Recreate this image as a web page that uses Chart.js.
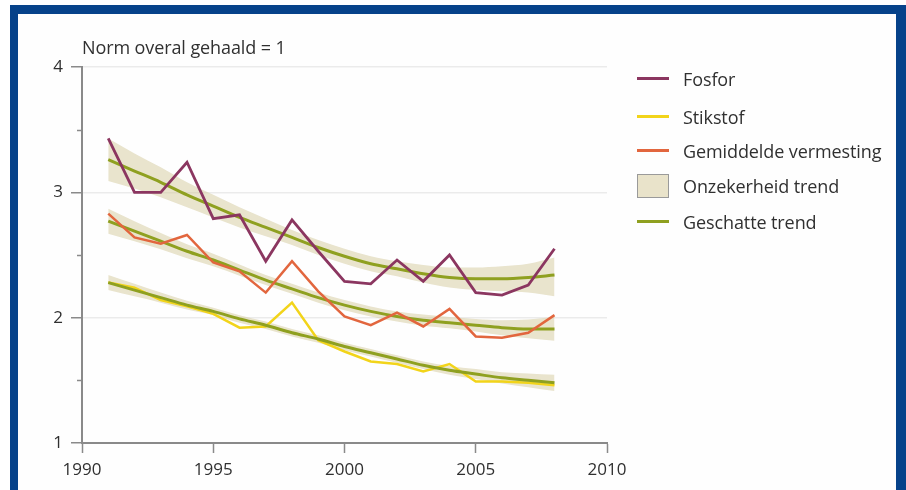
<!DOCTYPE html>
<html lang="nl">
<head>
<meta charset="utf-8">
<title>Vermesting: norm overal gehaald = 1</title>
<script src="https://cdn.jsdelivr.net/npm/chart.js@4.4.1/dist/chart.umd.min.js"></script>
<style>
  html, body { margin: 0; padding: 0; background: #ffffff; }
  body { width: 906px; height: 490px; position: relative; overflow: hidden;
         font-family: "Open Sans", "Noto Sans", sans-serif; color: #303030; }
  #frame { position: absolute; left: 10px; top: 5px; width: 896px; height: 500px;
           box-sizing: border-box; background: #fefefe;
           border-left: 8px solid #06428a; border-top: 9px solid #06428a;
           border-right: 10px solid #06428a; }
  #chart { position: absolute; left: 0; top: 0; }
  #title { position: absolute; left: 82px; top: 34px; font-size: 18px; line-height: 26px;
           white-space: nowrap; letter-spacing: -0.1px; }
  #legend { position: absolute; left: 637px; top: 0; }
  .row { position: absolute; left: 0; height: 26px; white-space: nowrap; }
  .swatch { position: absolute; left: 0; }
  .label { position: absolute; left: 46px; top: 0; font-size: 18px; line-height: 26px;
           letter-spacing: -0.1px; }
</style>
</head>
<body>
<div id="frame"></div>
<canvas id="chart" width="906" height="490"></canvas>
<div id="title">Norm overal gehaald = 1</div>
<div id="legend"></div>
<script>
// Jaren met metingen
const years = [1991, 1992, 1993, 1994, 1995, 1996, 1997, 1998, 1999,
               2000, 2001, 2002, 2003, 2004, 2005, 2006, 2007, 2008];

// Gemeten verhouding t.o.v. de norm
const fosfor     = [3.43, 3.00, 3.00, 3.24, 2.79, 2.82, 2.45, 2.78, 2.53,
                    2.29, 2.27, 2.46, 2.29, 2.50, 2.20, 2.18, 2.26, 2.55];
const stikstof   = [2.28, 2.24, 2.14, 2.09, 2.03, 1.92, 1.93, 2.12, 1.82,
                    1.73, 1.65, 1.63, 1.57, 1.63, 1.49, 1.49, 1.48, 1.46];
const gemiddelde = [2.83, 2.64, 2.59, 2.66, 2.44, 2.37, 2.20, 2.45, 2.21,
                    2.01, 1.94, 2.04, 1.93, 2.07, 1.85, 1.84, 1.88, 2.02];

// Geschatte trends
const trendFosfor     = [3.26, 3.17, 3.08, 2.98, 2.89, 2.80, 2.72, 2.64, 2.56,
                         2.49, 2.43, 2.39, 2.35, 2.32, 2.31, 2.31, 2.32, 2.34];
const trendStikstof   = [2.28, 2.22, 2.16, 2.10, 2.05, 1.99, 1.94, 1.88, 1.83,
                         1.77, 1.72, 1.67, 1.62, 1.58, 1.55, 1.52, 1.50, 1.48];
const trendGemiddelde = [2.77, 2.69, 2.61, 2.53, 2.46, 2.38, 2.30, 2.23, 2.16,
                         2.10, 2.05, 2.01, 1.98, 1.96, 1.94, 1.92, 1.91, 1.91];

// Onzekerheidsbanden rond de trends (boven- en ondergrens)
const fosforBoven     = [3.43, 3.31, 3.20, 3.08, 2.98, 2.88, 2.79, 2.70, 2.62,
                         2.55, 2.49, 2.45, 2.42, 2.40, 2.40, 2.41, 2.43, 2.48];
const fosforOnder     = [3.09, 3.03, 2.96, 2.88, 2.80, 2.72, 2.65, 2.58, 2.50,
                         2.43, 2.37, 2.33, 2.28, 2.24, 2.22, 2.21, 2.20, 2.17];
const stikstofBoven   = [2.34, 2.27, 2.20, 2.135, 2.08, 2.02, 1.97, 1.91, 1.86,
                         1.80, 1.75, 1.70, 1.65, 1.615, 1.59, 1.565, 1.555, 1.545];
const stikstofOnder   = [2.22, 2.17, 2.12, 2.065, 2.02, 1.96, 1.91, 1.85, 1.80,
                         1.74, 1.69, 1.64, 1.59, 1.545, 1.51, 1.475, 1.445, 1.415];
const gemiddeldeBoven = [2.87, 2.77, 2.675, 2.585, 2.51, 2.425, 2.34, 2.27, 2.20,
                         2.14, 2.09, 2.05, 2.025, 2.005, 1.99, 1.98, 1.985, 2.005];
const gemiddeldeOnder = [2.67, 2.61, 2.545, 2.475, 2.41, 2.335, 2.26, 2.19, 2.12,
                         2.06, 2.01, 1.97, 1.935, 1.915, 1.89, 1.86, 1.835, 1.815];

// As-instellingen
const xTicks = [1990, 1995, 2000, 2005, 2010];
const yTicks = [1, 2, 3, 4];
const yMinorTicks = [1.5, 2.5, 3.5];

const legendLabels = ['Fosfor', 'Stikstof', 'Gemiddelde vermesting', 'Onzekerheid trend', 'Geschatte trend'];

const C = {
  fosfor: '#8b3660',
  stikstof: '#f2d41a',
  gemiddelde: '#e2663e',
  trend: '#8fa020',
  band: 'rgba(212, 204, 160, 0.52)',
  axis: '#8a8a8a',
  grid: '#ebebeb',
  text: '#303030'
};

const tickFont = { family: '"Open Sans", sans-serif', size: 17 };

const pts = (vals) => years.map((y, i) => ({ x: y, y: vals[i] }));

const bandSet = (vals, fill) => ({
  data: pts(vals), borderWidth: 0, pointRadius: 0, fill: fill,
  backgroundColor: C.band, cubicInterpolationMode: 'monotone', order: 10
});
const lineSet = (vals, color, width, order, smooth) => ({
  data: pts(vals), borderColor: color, borderWidth: width, pointRadius: 0,
  fill: false, order: order, borderJoinStyle: 'miter',
  cubicInterpolationMode: smooth ? 'monotone' : 'default', tension: 0
});

// Korte tussenstreepjes op de y-as
const minorTickPlugin = {
  id: 'minorTicks',
  afterDraw(chart) {
    const ctx = chart.ctx, ys = chart.scales.y, left = chart.chartArea.left;
    ctx.save();
    ctx.strokeStyle = C.axis;
    ctx.lineWidth = 1.5;
    yMinorTicks.forEach(v => {
      const py = Math.round(ys.getPixelForValue(v)) + 0.5;
      ctx.beginPath();
      ctx.moveTo(left - 5, py);
      ctx.lineTo(left, py);
      ctx.stroke();
    });
    ctx.restore();
  }
};

new Chart(document.getElementById('chart'), {
  type: 'line',
  data: {
    datasets: [
      bandSet(fosforBoven, '+1'), bandSet(fosforOnder, false),
      bandSet(gemiddeldeBoven, '+1'), bandSet(gemiddeldeOnder, false),
      bandSet(stikstofBoven, '+1'), bandSet(stikstofOnder, false),
      lineSet(stikstof, C.stikstof, 2.5, 6, false),
      lineSet(trendFosfor, C.trend, 3, 4, true),
      lineSet(trendGemiddelde, C.trend, 3, 4, true),
      lineSet(trendStikstof, C.trend, 3, 4, true),
      lineSet(gemiddelde, C.gemiddelde, 2.5, 2, false),
      lineSet(fosfor, C.fosfor, 2.8, 1, false)
    ]
  },
  options: {
    responsive: false,
    animation: false,
    events: [],
    layout: { padding: { left: 42, top: 67, right: 299, bottom: 7 } },
    plugins: { legend: { display: false }, tooltip: { enabled: false }, title: { display: false } },
    scales: {
      x: {
        type: 'linear', min: 1990, max: 2010,
        afterFit: (s) => { s.height = 40; },
        afterBuildTicks: (s) => { s.ticks = xTicks.map(v => ({ value: v })); },
        border: { color: C.axis, width: 2 },
        grid: { drawOnChartArea: false, tickLength: 10, tickColor: C.axis, tickWidth: 1.5 },
        ticks: { padding: 7, color: C.text, font: tickFont, maxRotation: 0, callback: (v) => String(v) }
      },
      y: {
        type: 'linear', min: 1, max: 4,
        afterFit: (s) => { s.width = 40; },
        afterBuildTicks: (s) => { s.ticks = yTicks.map(v => ({ value: v })); },
        border: { color: C.axis, width: 2 },
        grid: { color: (c) => (c.tick && c.tick.value > 1 ? C.grid : 'rgba(0,0,0,0)'),
                lineWidth: 1.5, tickLength: 11, tickColor: C.axis, tickWidth: 1.5 },
        ticks: { padding: 8, color: C.text, font: tickFont, callback: (v) => String(v) }
      }
    }
  },
  plugins: [minorTickPlugin]
});

// Legenda
const legend = document.getElementById('legend');
const legendRows = [
  { y: 79, kind: 'line', color: C.fosfor },
  { y: 117, kind: 'line', color: C.stikstof },
  { y: 151, kind: 'line', color: C.gemiddelde },
  { y: 186, kind: 'box', color: '#e9e3ca' },
  { y: 222, kind: 'line', color: C.trend }
];
legendRows.forEach((r, i) => {
  const row = document.createElement('div');
  row.className = 'row';
  row.style.top = (r.y - 13) + 'px';
  const sw = document.createElement('div');
  sw.className = 'swatch';
  if (r.kind === 'line') {
    Object.assign(sw.style, { top: '11px', width: '32px', height: '3px', background: r.color });
  } else {
    Object.assign(sw.style, { top: '1px', width: '32px', height: '24px', background: r.color,
                              border: '1.5px solid #9a9a9a', boxSizing: 'border-box' });
  }
  const lb = document.createElement('div');
  lb.className = 'label';
  lb.textContent = legendLabels[i];
  row.appendChild(sw);
  row.appendChild(lb);
  legend.appendChild(row);
});
</script>
</body>
</html>
